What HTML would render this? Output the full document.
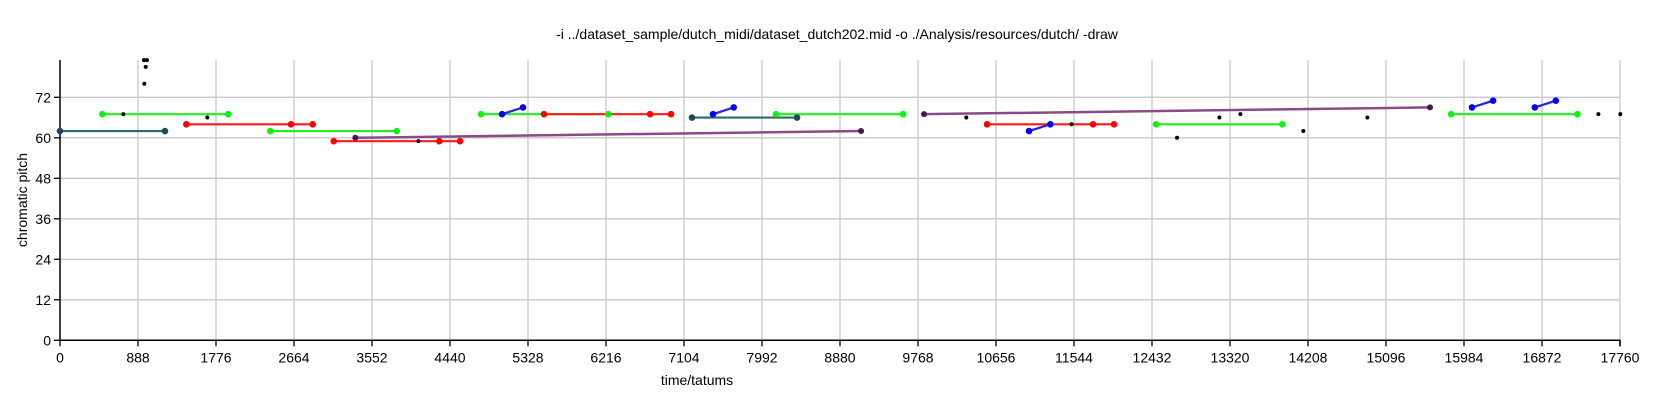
<!DOCTYPE html>
<html><head><meta charset="utf-8"><style>
html,body{margin:0;padding:0;background:#fff;}
svg{display:block;font-family:"Liberation Sans",Arial,sans-serif;}
</style></head><body>
<svg id="chart" width="1680" height="401" viewBox="0 0 1680 401">
<text x="837" y="39" text-anchor="middle" font-size="14">-i ../dataset_sample/dutch_midi/dataset_dutch202.mid -o ./Analysis/resources/dutch/ -draw</text>
<g id="grid"></g>
<g id="axes"></g>
<g id="lines"></g>
<g id="marks"></g>
<text x="697" y="385" text-anchor="middle" font-size="14">time/tatums</text>
<text transform="translate(27,200) rotate(-90)" text-anchor="middle" font-size="14">chromatic pitch</text>
</svg>
<script>
// data
const xTicks = [0,888,1776,2664,3552,4440,5328,6216,7104,7992,8880,9768,10656,11544,12432,13320,14208,15096,15984,16872,17760];
const yTicks = [0,12,24,36,48,60,72];
const segColors = ["teal","green","red","green","red","purple","green","blue","red","teal","blue","green","purple","red","blue","green","green","blue","blue"];
const segStart = [0,482,1438,2394,3116,3362,4793,5032,5510,7195,7434,8152,9837,10554,11032,12478,15837,16075,16790];
const segEnd   = [1195,1916,2877,3833,4554,9120,6243,5271,6956,8391,7670,9598,15597,12000,11274,13916,17275,16315,17029];
const segPitchStart = [62,67,64,62,59,60,67,67,67,66,67,67,67,64,62,64,67,69,69];
const segPitchEnd   = [62,67,64,62,59,62,67,69,67,66,69,67,69,64,64,64,67,71,71];
const midTimes = [[],[],[2630],[],[4318],[],[],[],[6717],[],[],[],[],[11761],[],[],[],[],[]];
const dotTimes = [720,956,990,976,960,1677,4080,10318,11517,12717,13199,13438,14155,14884,17514,17764];
const dotPitches = [67,83,83,81,76,66,59,66,64,60,66,67,62,66,67,67];

const X0=60,X1=1620,Y0=340.3,PX=3.375;
function xs(t){return X0+(t/17760)*(X1-X0);}
function ys(v){return Y0-v*PX;}
const NS="http://www.w3.org/2000/svg";
function mk(tag,attrs,parent){const e=document.createElementNS(NS,tag);for(const k in attrs)e.setAttribute(k,attrs[k]);parent.appendChild(e);return e;}
const grid=document.getElementById('grid'),axes=document.getElementById('axes'),marks=document.getElementById('marks'),lines=document.getElementById('lines');
xTicks.forEach(t=>{
  if(t>0){const g=mk('line',{x1:xs(t),x2:xs(t),y1:60,y2:Y0,stroke:'#c8c8c8','stroke-width':1.3},grid);
  
  }
  const tk=mk('line',{x1:xs(t),x2:xs(t),y1:Y0,y2:Y0+6,stroke:'#000','stroke-width':1.3},axes);
  
  
  const l=mk('text',{x:xs(t),y:Y0+22,'text-anchor':'middle','font-size':14},axes);l.textContent=t;
  
  
});
yTicks.forEach(v=>{
  if(v>0){const g=mk('line',{x1:X0,x2:X1,y1:ys(v),y2:ys(v),stroke:'#c8c8c8','stroke-width':1.3},grid);
  
  }
  const tk=mk('line',{x1:X0-6,x2:X0,y1:ys(v),y2:ys(v),stroke:'#000','stroke-width':1.3},axes);
  
  
  const l=mk('text',{x:X0-9,y:ys(v)+5,'text-anchor':'end','font-size':14},axes);l.textContent=v;
  
  
});
const ax=mk('path',{d:`M${X0},60 V${Y0} H${X1} V${Y0+6}`,fill:'none',stroke:'#000','stroke-width':1.5},axes);


const pal={teal:['#2b6a72','#1a4c56'],green:['#1ef01e','#11ee11'],red:['#ff1a1a','#ff0000'],blue:['#2222ee','#0000ff'],purple:['#8a4a8a','#4a1548']};
segColors.forEach((c,i)=>{
  const [lc,dc]=pal[c];
  const x1=xs(segStart[i]),x2=xs(segEnd[i]),y1=ys(segPitchStart[i]),y2=ys(segPitchEnd[i]);
  const ln=mk('line',{x1:x1,y1:y1,x2:x2,y2:y2,stroke:lc,'stroke-width':c==='purple'?2.5:2.2},lines);
  
  
  const r=c==='purple'?3:3.3;
  const a=mk('circle',{cx:x1,cy:y1,r:r,fill:dc},marks);
  
  
  const b=mk('circle',{cx:x2,cy:y2,r:r,fill:dc},marks);
  
  
  midTimes[i].forEach(t=>{
    const m=mk('circle',{cx:xs(t),cy:y1,r:3.3,fill:dc},marks);
    
    
  });
});
dotTimes.forEach((t,i)=>{
  const d=mk('circle',{cx:xs(t),cy:ys(dotPitches[i]),r:2,fill:'#000'},marks);
  
  
});
</script>
</body></html>
